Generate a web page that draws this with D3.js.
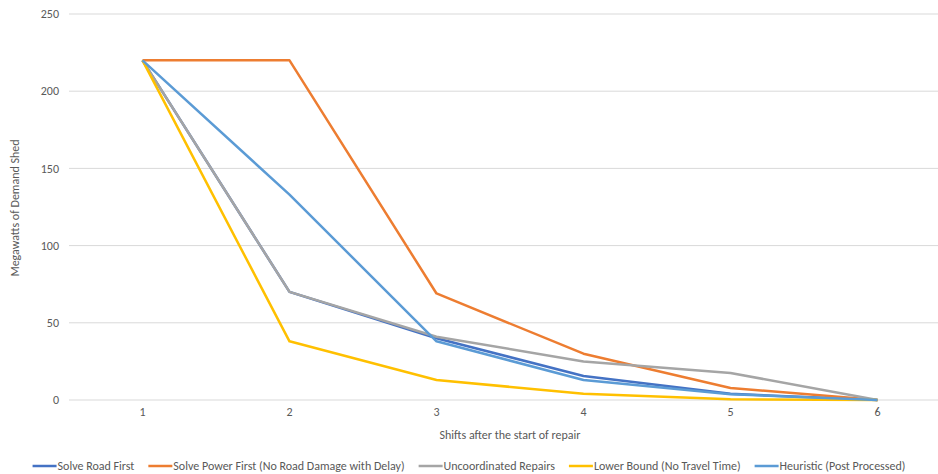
<!DOCTYPE html>
<html><head><meta charset="utf-8">
<script src="https://cdn.jsdelivr.net/npm/d3@7"></script>
<style>body{margin:0;background:#fff;} text{font-family:Carlito,"Liberation Sans Narrow","Open Sans",sans-serif;fill:#595959;}</style>
</head><body>
<svg id="c" width="938" height="474"></svg>
<script>
const categories = ["1","2","3","4","5","6"];
const yTicks = [0,50,100,150,200,250];
const seriesNames = ["Solve Road First","Solve Power First (No Road Damage with Delay)","Uncoordinated Repairs","Lower Bound (No Travel Time)","Heuristic (Post Processed)"];
const solveRoadFirst = [220,70,40,15.5,4,0];
const solvePowerFirst = [220,220,69,30,7.8,0];
const uncoordinated = [220,70,41,25,17.5,0];
const lowerBound = [220,38,13,4,0.5,0];
const heuristic = [220,133,38,13,3.8,0];
const colors = ["#4472C4","#ED7D31","#A5A5A5","#FFC000","#5B9BD5"];
const seriesData = [solveRoadFirst,solvePowerFirst,uncoordinated,lowerBound,heuristic];

(function(){
const svg = d3.select("#c");
const pL=69, pR=951, pT=14, pB=400;
const x = d3.scalePoint().domain(categories).range([pL,pR]).padding(0.5);
const y = d3.scaleLinear().domain([0,250]).range([pB,pT]);

svg.append("g").selectAll("line").data(yTicks).join("line")
  .attr("x1",pL).attr("x2",pR).attr("y1",d=>y(d)).attr("y2",d=>y(d))
  .attr("stroke","#D9D9D9").attr("stroke-width",1);

svg.append("g").selectAll("text").data(yTicks).join("text")
  .attr("x",59).attr("y",d=>y(d)).attr("dy","0.35em").attr("text-anchor","end")
  .attr("font-size",12).text(d=>d);

svg.append("g").selectAll("text").data(categories).join("text")
  .attr("x",d=>x(d)).attr("y",416).attr("text-anchor","middle")
  .attr("font-size",12).text(d=>d);

svg.append("text").attr("x",510).attr("y",439).attr("text-anchor","middle").attr("font-size",12).text("Shifts after the start of repair");
svg.append("text").attr("transform","translate(19,208) rotate(-90)").attr("text-anchor","middle").attr("font-size",12).text("Megawatts of Demand Shed");

const line = d3.line().x((d,i)=>x(categories[i])).y(d=>y(d));
svg.append("g").selectAll("path").data(seriesData).join("path")
  .attr("d",line).attr("fill","none").attr("stroke",(d,i)=>colors[i])
  .attr("stroke-width",2.5).attr("stroke-linejoin","round");

const lg = svg.append("g");
const items = [];
seriesNames.forEach((n,i)=>{
  const g = lg.append("g");
  g.append("line").attr("x1",0).attr("x2",24).attr("y1",0).attr("y2",0).attr("stroke",colors[i]).attr("stroke-width",2.5);
  const t = g.append("text").attr("x",25).attr("y",0).attr("dy","0.35em").attr("font-size",12).text(n);
  const w = 25 + t.node().getComputedTextLength();
  items.push({g,w});
});
const gap = 14;
const total = d3.sum(items,d=>d.w) + gap*(items.length-1);
let sx = 469 - total/2;
items.forEach(it=>{ it.g.attr("transform",`translate(${sx},466)`); sx += it.w + gap; });
})();
</script>
</body></html>
